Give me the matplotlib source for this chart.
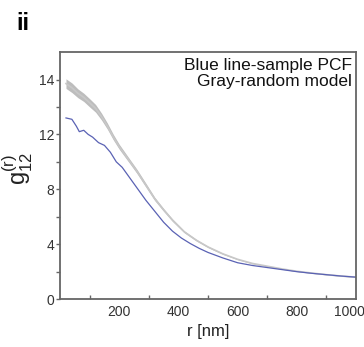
import numpy as np
import matplotlib.pyplot as plt
from matplotlib.transforms import ScaledTranslation

plt.rcParams['font.family'] = ['Liberation Sans', 'DejaVu Sans']
plt.rcParams['mathtext.fontset'] = 'custom'
plt.rcParams['mathtext.rm'] = 'Liberation Sans'
plt.rcParams['mathtext.it'] = 'Liberation Sans'

# sample PCF (blue line)
r_blue = [20, 40, 55, 65, 80, 95, 110, 130, 150, 170, 190, 210, 230, 250, 270, 290,
          320, 350, 380, 410, 440, 470, 500, 550, 600, 650, 700, 750, 800, 850, 900, 950, 1000]
g_blue = [13.2, 13.1, 12.6, 12.2, 12.3, 12.0, 11.8, 11.4, 11.2, 10.7, 10.0, 9.6, 9.0, 8.4, 7.8, 7.2,
          6.4, 5.6, 4.95, 4.45, 4.05, 3.7, 3.4, 3.0, 2.65, 2.45, 2.3, 2.15, 2.0, 1.88, 1.78, 1.68, 1.6]

# random model (gray band)
r_gray = [20, 40, 60, 80, 100, 120, 140, 160, 180, 200, 230, 260, 290, 320, 350, 380, 420,
          460, 500, 550, 600, 650, 700, 750, 800, 850, 900, 950, 1000]
g_gray = [15.7, 15.4, 15.0, 14.7, 14.3, 13.9, 13.3, 12.6, 11.8, 11.1, 10.2, 9.3, 8.3, 7.3, 6.5, 5.75, 4.9,
          4.3, 3.8, 3.3, 2.9, 2.6, 2.4, 2.2, 2.03, 1.9, 1.78, 1.68, 1.6]
g_gray_hw = [0.35, 0.35, 0.32, 0.3, 0.3, 0.28, 0.25, 0.22, 0.2, 0.18, 0.16, 0.15, 0.14, 0.12, 0.1, 0.09, 0.07,
             0.06, 0.05, 0.04, 0.03, 0.03, 0.02, 0.02, 0.02, 0.02, 0.02, 0.02, 0.02]

y_ticks = [0, 4, 8, 12, 16]
y_ticklabels = ['0', '4', '8', '12', '14']
x_ticks = [200, 400, 600, 800, 1000]

fig = plt.figure(figsize=(3.64, 3.47), dpi=100)
ax = fig.add_axes([0.165, 0.138, 0.813, 0.712])

g_gray = np.array(g_gray)
hw = np.array(g_gray_hw)
ax.fill_between(r_gray, g_gray - hw, g_gray + hw, color='#bdbdbd', lw=0)
ax.plot(r_gray, g_gray, color='#c8c8c8', lw=1.2)
ax.plot(r_blue, g_blue, color='#5a62b4', lw=0.9)

ax.set_xlim(0, 1000)
ax.set_ylim(0, 18)
ax.set_yticks(y_ticks)
ax.set_yticklabels(y_ticklabels)
ax.set_yticks([2, 6, 10, 14], minor=True)
ax.set_xticks(x_ticks)
ax.set_xticks([100, 300, 500, 700, 900], minor=True)

ax.tick_params(axis='y', which='both', direction='out', length=3, width=1, color='#666666',
               labelsize=10, labelcolor='#333333', pad=1)
ax.tick_params(axis='x', which='major', length=0, labelsize=10, labelcolor='#333333', pad=4)
ax.tick_params(axis='x', which='minor', direction='in', length=3, width=1, color='#666666')

# last x label sits a little left so it stays inside the figure
last = ax.get_xticklabels()[-1]
last.set_transform(last.get_transform() + ScaledTranslation(-7 / 100, 0, fig.dpi_scale_trans))

for s in ax.spines.values():
    s.set_color('#666666')
    s.set_linewidth(1.3)

ax.set_xlabel('r [nm]', fontsize=12, color='#222222', labelpad=4)
ax.set_ylabel(r'g$_{\mathregular{12}}^{\mathregular{(r)}}$', fontsize=17, color='#222222')
ax.yaxis.set_label_coords(-0.085, 0.53)

ax.text(0.985, 0.975, 'Blue line-sample PCF\nGray-random model', transform=ax.transAxes,
        ha='right', va='top', fontsize=12.5, color='#111111', linespacing=1.05)

fig.text(0.045, 0.965, 'ii', fontsize=17, fontweight='bold', ha='left', va='top')

fig.savefig('out.png', dpi=100)
